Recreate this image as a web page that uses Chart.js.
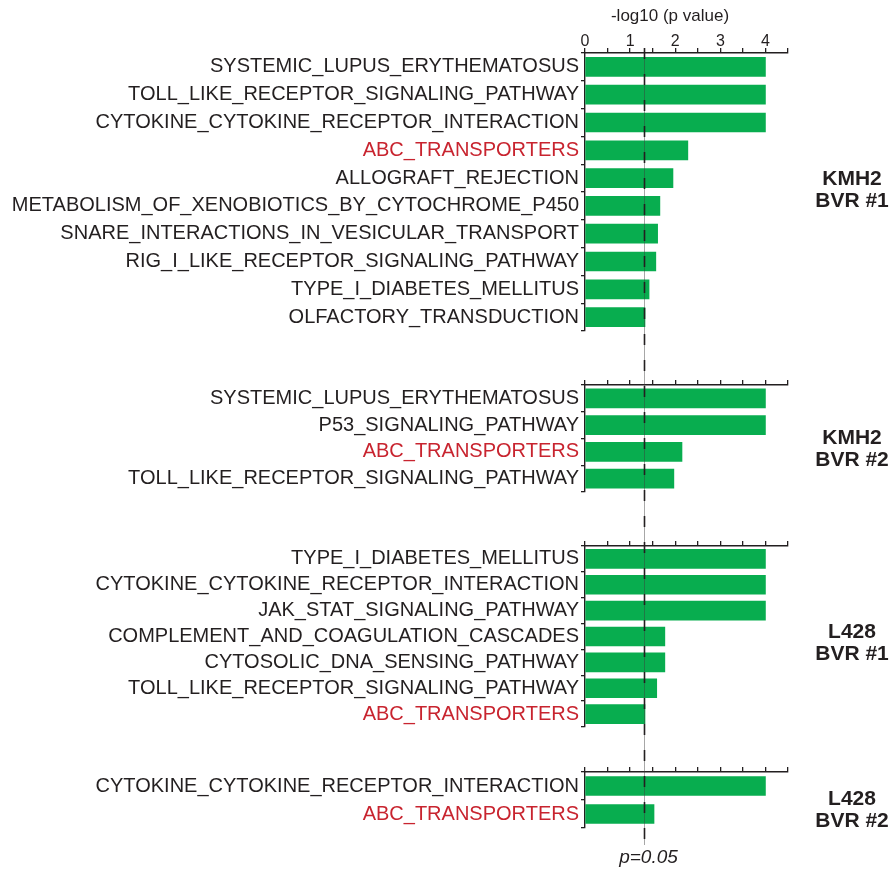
<!DOCTYPE html>
<html>
<head>
<meta charset="utf-8">
<title>Pathway enrichment</title>
<script src="https://cdn.jsdelivr.net/npm/chart.js@4"></script>
<style>
  html, body { margin: 0; padding: 0; background: #ffffff; }
  #wrap { position: relative; width: 895px; height: 871px; overflow: hidden; }
  #wrap canvas { position: absolute; left: 0; }
  .group { position: absolute; width: 120px; text-align: center;
           font: bold 21px "Liberation Sans", Arial, Helvetica, sans-serif;
           line-height: 22px; color: #231f20; }
</style>
</head>
<body>
<div id="wrap">
  <canvas id="p1"></canvas>
  <canvas id="p2"></canvas>
  <canvas id="p3"></canvas>
  <canvas id="p4"></canvas>
  <canvas id="overlay" width="895" height="871" style="top:0;pointer-events:none;"></canvas>
</div>
<script>
// ---- data: -log10(p) of enriched KEGG pathways per cell line / BVR clone ----
const kmh2Bvr1Pathways = [
  "SYSTEMIC_LUPUS_ERYTHEMATOSUS",
  "TOLL_LIKE_RECEPTOR_SIGNALING_PATHWAY",
  "CYTOKINE_CYTOKINE_RECEPTOR_INTERACTION",
  "ABC_TRANSPORTERS",
  "ALLOGRAFT_REJECTION",
  "METABOLISM_OF_XENOBIOTICS_BY_CYTOCHROME_P450",
  "SNARE_INTERACTIONS_IN_VESICULAR_TRANSPORT",
  "RIG_I_LIKE_RECEPTOR_SIGNALING_PATHWAY",
  "TYPE_I_DIABETES_MELLITUS",
  "OLFACTORY_TRANSDUCTION"
];
const kmh2Bvr1Values = [4, 4, 4, 2.28, 1.95, 1.66, 1.61, 1.57, 1.42, 1.33];

const kmh2Bvr2Pathways = [
  "SYSTEMIC_LUPUS_ERYTHEMATOSUS",
  "P53_SIGNALING_PATHWAY",
  "ABC_TRANSPORTERS",
  "TOLL_LIKE_RECEPTOR_SIGNALING_PATHWAY"
];
const kmh2Bvr2Values = [4, 4, 2.15, 1.97];

const l428Bvr1Pathways = [
  "TYPE_I_DIABETES_MELLITUS",
  "CYTOKINE_CYTOKINE_RECEPTOR_INTERACTION",
  "JAK_STAT_SIGNALING_PATHWAY",
  "COMPLEMENT_AND_COAGULATION_CASCADES",
  "CYTOSOLIC_DNA_SENSING_PATHWAY",
  "TOLL_LIKE_RECEPTOR_SIGNALING_PATHWAY",
  "ABC_TRANSPORTERS"
];
const l428Bvr1Values = [4, 4, 4, 1.77, 1.77, 1.59, 1.33];

const l428Bvr2Pathways = [
  "CYTOKINE_CYTOKINE_RECEPTOR_INTERACTION",
  "ABC_TRANSPORTERS"
];
const l428Bvr2Values = [4, 1.53];

const groupNames = [["KMH2", "BVR #1"], ["KMH2", "BVR #2"], ["L428", "BVR #1"], ["L428", "BVR #2"]];
const highlightedPathways = ["ABC_TRANSPORTERS"];
const xTickValues = [0, 1, 2, 3, 4];
const pThreshold = 0.05;
const axisTitle = "-log10 (p value)";

// ---- styling ----
const FONT = '"Liberation Sans", Arial, Helvetica, sans-serif';
const GREEN = "#08ad4f";
const INK = "#231f20";
const RED = "#c8242f";
Chart.defaults.font.family = FONT;

// panel boxes: top/bottom of each plotting area, and the y centre of the group label
const panelBoxes = [
  { id: "p1", top: 53,  bottom: 331, axisH: 53, labelY: 189 },
  { id: "p2", top: 385, bottom: 492, axisH: 7,  labelY: 448 },
  { id: "p3", top: 546, bottom: 727, axisH: 7,  labelY: 642 },
  { id: "p4", top: 772, bottom: 828, axisH: 7,  labelY: 809 }
];
const PLOT_LEFT = 585, PLOT_RIGHT = 788, W = 895;

function makePanel(box, labels, values, showTickLabels) {
  const canvas = document.getElementById(box.id);
  const h = box.axisH + (box.bottom - box.top) + 3;
  canvas.width = W;
  canvas.height = h;
  canvas.style.top = (box.top - box.axisH) + "px";
  return new Chart(canvas, {
    type: "bar",
    data: {
      labels: labels,
      datasets: [{ data: values, backgroundColor: GREEN, borderWidth: 0, barThickness: 19 }]
    },
    options: {
      indexAxis: "y",
      responsive: false,
      maintainAspectRatio: false,
      animation: false,
      layout: { padding: { left: 0, right: W - PLOT_RIGHT, top: 0, bottom: 3 } },
      plugins: { legend: { display: false }, tooltip: { enabled: false } },
      scales: {
        x: {
          position: "top",
          min: 0,
          max: 4.5,
          ticks: {
            stepSize: 0.5,
            autoSkip: false,
            maxRotation: 0,
            display: showTickLabels,
            padding: -3,
            color: INK,
            font: { size: 16 },
            callback: (v) => (xTickValues.includes(v) ? String(v) : "")
          },
          grid: { drawOnChartArea: false, drawTicks: true, tickLength: 5, color: INK, lineWidth: 1.3 },
          border: { color: INK, width: 1.4 },
          afterFit: (s) => { s.height = box.axisH; s.paddingLeft = 0; s.paddingRight = 0; }
        },
        y: {
          ticks: {
            autoSkip: false,
            padding: 2,
            font: { size: 20 },
            color: (ctx) => (highlightedPathways.includes(labels[ctx.index]) ? RED : INK)
          },
          grid: { drawOnChartArea: false, drawTicks: true, tickLength: 4, offset: true, color: INK, lineWidth: 1.3 },
          border: { color: INK, width: 1.4 },
          afterFit: (s) => { s.width = PLOT_LEFT; s.paddingTop = 0; s.paddingBottom = 0; }
        }
      }
    }
  });
}

const charts = [
  makePanel(panelBoxes[0], kmh2Bvr1Pathways, kmh2Bvr1Values, true),
  makePanel(panelBoxes[1], kmh2Bvr2Pathways, kmh2Bvr2Values, false),
  makePanel(panelBoxes[2], l428Bvr1Pathways, l428Bvr1Values, false),
  makePanel(panelBoxes[3], l428Bvr2Pathways, l428Bvr2Values, false)
];

// group labels to the right of each panel
const wrap = document.getElementById("wrap");
groupNames.forEach((lines, i) => {
  const d = document.createElement("div");
  d.className = "group";
  d.innerHTML = lines.join("<br>");
  d.style.left = (852 - 60) + "px";
  d.style.top = (panelBoxes[i].labelY - 22) + "px";
  wrap.appendChild(d);
});

// shared overlay: axis title, significance threshold line and its label
const ov = document.getElementById("overlay").getContext("2d");
const first = charts[0], last = charts[charts.length - 1];
const topY = first.canvas.offsetTop + first.chartArea.top;
const botY = last.canvas.offsetTop + last.chartArea.bottom;
const xThr = Math.round(first.scales.x.getPixelForValue(-Math.log10(pThreshold))) + 0.5;

ov.fillStyle = INK;
ov.font = "17px " + FONT;
ov.textAlign = "center";
ov.textBaseline = "middle";
ov.fillText(axisTitle, 670, 16);

ov.strokeStyle = "rgba(60,60,60,0.45)";
ov.lineWidth = 1;
ov.beginPath();
ov.moveTo(xThr, topY - 5);
ov.lineTo(xThr, botY + 17);
ov.stroke();

ov.strokeStyle = INK;
ov.lineWidth = 1.6;
ov.setLineDash([11, 15]);
ov.beginPath();
ov.moveTo(xThr, topY - 5);
ov.lineTo(xThr, botY + 17);
ov.stroke();
ov.setLineDash([]);

ov.font = "italic 19px " + FONT;
ov.fillText("p=" + pThreshold.toFixed(2), xThr + 4, botY + 30);
</script>
</body>
</html>
